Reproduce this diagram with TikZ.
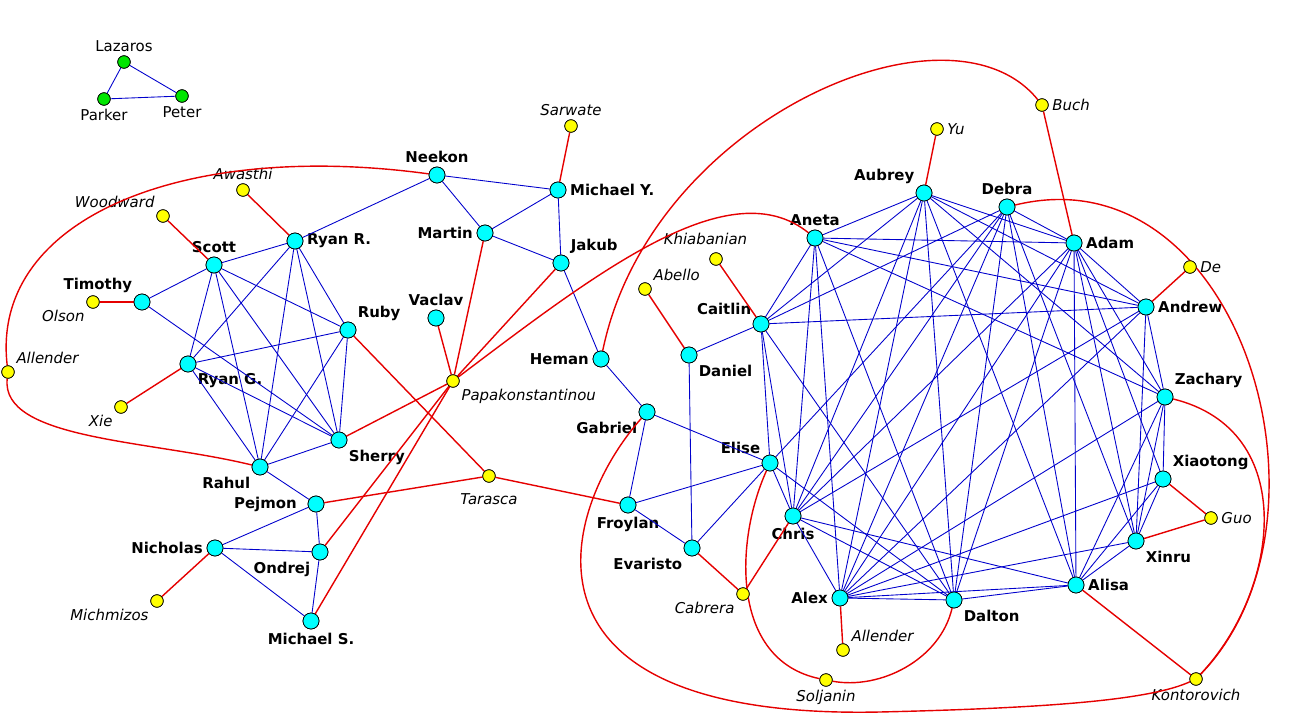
\documentclass[tikz,border=0pt]{standalone}
\usepackage{fontspec}
\setmainfont{DejaVu Sans}
\usetikzlibrary{arrows,shapes}
\definecolor{aqua}{RGB}{0,255,255}
\definecolor{lime}{RGB}{0,230,0}
\definecolor{lemon}{RGB}{255,255,0}
\tikzset{
  member/.style={draw,circle,fill=aqua,inner sep=0pt,minimum size=0.32cm,thin},
  guest/.style={draw,circle,fill=lemon,inner sep=0pt,minimum size=0.25cm,thin},
  other/.style={draw,circle,fill=lime,inner sep=0pt,minimum size=0.25cm,thin},
  every label/.style={font=\fontsize{8.5}{10}\selectfont\bfseries,inner sep=2pt},
  ext/.style={font=\fontsize{8.5}{10}\selectfont\itshape,inner sep=2pt},
  co/.style={blue!80!black,line width=0.5pt},
  rd/.style={red!90!black,line width=0.8pt}
}
\begin{document}
\begin{tikzpicture}[x=0.02cm,y=-0.02cm]
\useasboundingbox (0,0) rectangle (1289,713);
% nodes first, redrawn on top of the links at the end
\node (Lazaros) at (124,62)[other,label={[font=\fontsize{8.5}{10}\selectfont]above:Lazaros}] {};
\node (Parker) at (104,99)[other,label={[font=\fontsize{8.5}{10}\selectfont]below:Parker}] {};
\node (Peter) at (182,96)[other,label={[font=\fontsize{8.5}{10}\selectfont]below:Peter}] {};
% left group
\node (Neekon) at (437,175)[member,label=above:Neekon] {};
\node (MichaelY) at (558,190)[member,label=right:Michael Y.] {};
\node (Martin) at (485,233)[member,label=left:Martin] {};
\node (Jakub) at (561,263)[member,label=above right:Jakub] {};
\node (RyanR) at (295,241)[member,label=right:Ryan R.] {};
\node (Scott) at (214,265)[member,label=above:Scott] {};
\node (Timothy) at (142,302)[member,label=above left:Timothy] {};
\node (Ruby) at (348,330)[member,label=above right:Ruby] {};
\node (Vaclav) at (436,318)[member,label=above:Vaclav] {};
\node (RyanG) at (188,364)[member,label=below right:Ryan G.] {};
\node (Sherry) at (339,440)[member,label=below right:Sherry] {};
\node (Rahul) at (260,467)[member,label=below left:Rahul] {};
\node (Pejmon) at (316,504)[member,label={[xshift=-4pt]left:Pejmon}] {};
\node (Nicholas) at (215,548)[member,label=left:Nicholas] {};
\node (Ondrej) at (320,552)[member,label=below left:Ondrej] {};
\node (MichaelS) at (311,621)[member,label=below:Michael S.] {};
\node (Heman) at (601,359)[member,label=left:Heman] {};
\node (Gabriel) at (647,412)[member,label=below left:Gabriel] {};
\node (Froylan) at (628,505)[member,label=below:Froylan] {};
\node (Evaristo) at (692,548)[member,label=below left:Evaristo] {};
\node (Daniel) at (689,355)[member,label=below right:Daniel] {};
\node (Caitlin) at (761,324)[member,label=above left:Caitlin] {};
\node (Elise) at (770,463)[member,label=above left:Elise] {};
% right group
\node (Aneta) at (815,238)[member,label=above:Aneta] {};
\node (Aubrey) at (924,193)[member,label=above left:Aubrey] {};
\node (Debra) at (1007,207)[member,label=above:Debra] {};
\node (Adam) at (1074,243)[member,label=right:Adam] {};
\node (Andrew) at (1146,307)[member,label=right:Andrew] {};
\node (Zachary) at (1165,397)[member,label=above right:Zachary] {};
\node (Xiaotong) at (1163,479)[member,label=above right:Xiaotong] {};
\node (Xinru) at (1136,541)[member,label=below right:Xinru] {};
\node (Alisa) at (1076,585)[member,label=right:Alisa] {};
\node (Dalton) at (954,600)[member,label=below right:Dalton] {};
\node (Alex) at (840,598)[member,label=left:Alex] {};
\node (Chris) at (793,516)[member,label=below:Chris] {};
% outside people
\node (Sarwate) at (571,126)[guest,label={[ext]above:Sarwate}] {};
\node (Awasthi) at (243,190)[guest,label={[ext]above:Awasthi}] {};
\node (Woodward) at (163,216)[guest,label={[ext]above left:Woodward}] {};
\node (Olson) at (93,302)[guest,label={[ext]below left:Olson}] {};
\node (AllenderA) at (8,372)[guest,label={[ext]above right:Allender}] {};
\node (Xie) at (121,407)[guest,label={[ext]below left:Xie}] {};
\node (Papa) at (453,381)[guest,label={[ext]below right:Papakonstantinou}] {};
\node (Tarasca) at (489,476)[guest,label={[ext,yshift=-4pt]below:Tarasca}] {};
\node (Michmizos) at (157,601)[guest,label={[ext]below left:Michmizos}] {};
\node (Khiabanian) at (716,259)[guest,label={[ext,xshift=-6pt,yshift=2pt]above:Khiabanian}] {};
\node (Abello) at (645,289)[guest,label={[ext]above right:Abello}] {};
\node (Cabrera) at (743,594)[guest,label={[ext]below left:Cabrera}] {};
\node (AllenderB) at (843,650)[guest,label={[ext]above right:Allender}] {};
\node (Soljanin) at (826,680)[guest,label={[ext]below:Soljanin}] {};
\node (Kontorovich) at (1196,679)[guest,label={[ext]below:Kontorovich}] {};
\node (Guo) at (1211,518)[guest,label={[ext]right:Guo}] {};
\node (De) at (1190,267)[guest,label={[ext]right:De}] {};
\node (Yu) at (937,129)[guest,label={[ext]right:Yu}] {};
\node (Buch) at (1042,105)[guest,label={[ext]right:Buch}] {};

% blue links
\foreach \a/\b in {Lazaros/Parker,Lazaros/Peter,Parker/Peter,
  Neekon/MichaelY,Neekon/Martin,Neekon/RyanR,Martin/MichaelY,MichaelY/Jakub,Martin/Jakub,
  Jakub/Heman,Heman/Gabriel,Gabriel/Froylan,Gabriel/Elise,Froylan/Elise,Froylan/Evaristo,
  Daniel/Caitlin,Daniel/Evaristo,Evaristo/Elise,Elise/Caitlin,
  Scott/RyanR,Scott/Timothy,Scott/RyanG,Scott/Rahul,Scott/Sherry,Scott/Ruby,Timothy/Sherry,
  RyanR/RyanG,RyanR/Rahul,RyanR/Sherry,RyanR/Ruby,Ruby/RyanG,Ruby/Rahul,Ruby/Sherry,
  RyanG/Sherry,RyanG/Rahul,Rahul/Sherry,Rahul/Pejmon,Pejmon/Ondrej,Nicholas/Pejmon,
  Nicholas/Ondrej,Nicholas/MichaelS,Ondrej/MichaelS,
  Aneta/Aubrey,Aneta/Adam,Aneta/Andrew,Aneta/Zachary,Aneta/Caitlin,Aneta/Chris,Aneta/Alex,Aneta/Dalton,
  Aubrey/Caitlin,Aubrey/Chris,Aubrey/Alex,Aubrey/Dalton,Aubrey/Alisa,Aubrey/Adam,Aubrey/Andrew,Aubrey/Zachary,
  Debra/Caitlin,Debra/Elise,Debra/Chris,Debra/Alex,Debra/Dalton,Debra/Alisa,Debra/Xinru,Debra/Adam,
  Adam/Chris,Adam/Alex,Adam/Dalton,Adam/Alisa,Adam/Xinru,Adam/Zachary,Adam/Andrew,Adam/Xiaotong,
  Andrew/Caitlin,Andrew/Chris,Andrew/Alex,Andrew/Zachary,Andrew/Xinru,
  Caitlin/Chris,Caitlin/Dalton,Zachary/Xiaotong,Zachary/Xinru,Zachary/Alisa,Zachary/Alex,
  Xiaotong/Xinru,Xiaotong/Alisa,Xiaotong/Alex,Xinru/Alex,Xinru/Alisa,
  Alisa/Alex,Alisa/Dalton,Alisa/Chris,Elise/Chris,Elise/Dalton,Chris/Alex,Chris/Dalton,Alex/Dalton}
  \draw[co] (\a) -- (\b);
% red links
\foreach \a/\b in {Sarwate/MichaelY,Awasthi/RyanR,Woodward/Scott,Olson/Timothy,Xie/RyanG,
  Vaclav/Papa,Martin/Papa,Jakub/Papa,Papa/Ondrej,Papa/MichaelS,Papa/Sherry,Ruby/Tarasca,
  Tarasca/Pejmon,Tarasca/Froylan,Nicholas/Michmizos,Buch/Adam,Yu/Aubrey,De/Andrew,
  Khiabanian/Caitlin,Abello/Daniel,Cabrera/Evaristo,Cabrera/Chris,AllenderB/Alex,
  Kontorovich/Alisa,Guo/Xiaotong,Guo/Xinru}
  \draw[rd] (\a) -- (\b);
\draw[rd] (AllenderA) .. controls (-10,220) and (180,140) .. (Neekon);
\draw[rd] (AllenderA) .. controls (0,440) and (150,440) .. (Rahul);
\draw[rd] (Papa) .. controls (600,270) and (730,170) .. (Aneta);
\draw[rd] (Heman) .. controls (650,120) and (950,-10) .. (Buch);
\draw[rd] (Debra) .. controls (1240,150) and (1350,520) .. (Kontorovich);
\draw[rd] (Zachary) .. controls (1300,430) and (1280,590) .. (Kontorovich);
\draw[rd] (Gabriel) .. controls (560,510) and (500,720) .. (880,712)
  .. controls (1050,708) and (1150,700) .. (Kontorovich);
\draw[rd] (Elise) .. controls (735,540) and (730,660) .. (Soljanin);
\draw[rd] (Dalton) .. controls (940,660) and (880,690) .. (Soljanin);
% redraw nodes on top
\foreach \n in {Lazaros,Parker,Peter}
  \node[other] at (\n) {};
\foreach \n in {Neekon,MichaelY,Martin,Jakub,RyanR,Scott,Timothy,Ruby,Vaclav,RyanG,Sherry,Rahul,
  Pejmon,Nicholas,Ondrej,MichaelS,Heman,Gabriel,Froylan,Evaristo,Daniel,Caitlin,Elise,Aneta,
  Aubrey,Debra,Adam,Andrew,Zachary,Xiaotong,Xinru,Alisa,Dalton,Alex,Chris}
  \node[member] at (\n) {};
\foreach \n in {Sarwate,Awasthi,Woodward,Olson,AllenderA,Xie,Papa,Tarasca,Michmizos,Khiabanian,
  Abello,Cabrera,AllenderB,Soljanin,Kontorovich,Guo,De,Yu,Buch}
  \node[guest] at (\n) {};
\end{tikzpicture}
\end{document}
